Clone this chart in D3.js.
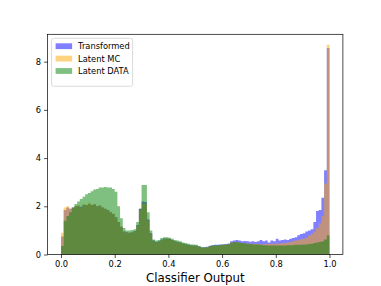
<!DOCTYPE html>
<html>
<head>
<meta charset="utf-8">
<script src="https://cdn.jsdelivr.net/npm/d3@7"></script>
<style>
  html, body { margin: 0; padding: 0; background: #fff; }
  svg { display: block; font-family: "DejaVu Sans", sans-serif; }
</style>
</head>
<body>
<div id="chart"></div>
<script>
// histogram settings: 100 bins over [0, 1]
const binCount = 100;
const binLo = 0, binHi = 1;

const seriesNames = ["Transformed", "Latent MC", "Latent DATA"];
const seriesColors = ["blue", "orange", "green"];

// bin heights (density)
const transformed = [
  0.75, 1.85, 1.95, 1.9, 1.95, 2.0, 2.0, 1.98, 2.05, 2.05,
  2.1, 2.05, 2.08, 2.0, 2.02, 1.95, 1.9, 1.85, 1.75, 1.68,
  1.55, 1.35, 1.15, 0.95, 0.92, 0.9, 0.92, 0.98, 1.22, 1.9,
  2.2, 2.18, 1.45, 0.88, 0.58, 0.52, 0.55, 0.62, 0.66, 0.66,
  0.65, 0.6, 0.55, 0.52, 0.5, 0.46, 0.43, 0.4, 0.38, 0.37,
  0.36, 0.33, 0.3, 0.3, 0.32, 0.36, 0.38, 0.4, 0.4, 0.42,
  0.43, 0.44, 0.46, 0.55, 0.58, 0.6, 0.58, 0.55, 0.56, 0.55,
  0.53, 0.55, 0.52, 0.55, 0.6, 0.55, 0.58, 0.5, 0.58, 0.55,
  0.65, 0.58, 0.6, 0.62, 0.6, 0.65, 0.68, 0.72, 0.8, 0.85,
  0.88, 0.95, 1.0, 1.05, 1.35, 1.8, 1.85, 2.35, 3.5, 8.57
];
const latentMC = [
  0.9, 1.95, 2.0, 1.9, 1.95, 2.0, 2.05, 1.95, 2.1, 2.05,
  2.15, 2.05, 2.1, 2.0, 2.05, 1.95, 1.9, 1.85, 1.75, 1.7,
  1.55, 1.35, 1.15, 0.95, 0.9, 0.9, 0.92, 0.95, 1.2, 1.85,
  2.1, 2.1, 1.4, 0.85, 0.55, 0.5, 0.52, 0.6, 0.65, 0.65,
  0.63, 0.6, 0.55, 0.5, 0.48, 0.45, 0.42, 0.38, 0.37, 0.36,
  0.35, 0.32, 0.28, 0.28, 0.3, 0.33, 0.35, 0.36, 0.36, 0.38,
  0.4, 0.4, 0.42, 0.5, 0.52, 0.52, 0.5, 0.48, 0.47, 0.46,
  0.45, 0.45, 0.44, 0.44, 0.43, 0.43, 0.44, 0.44, 0.45, 0.45,
  0.46, 0.46, 0.47, 0.48, 0.5, 0.52, 0.55, 0.58, 0.6, 0.63,
  0.65, 0.7, 0.78, 0.85, 0.95, 1.1, 1.3, 1.6, 2.95, 8.7
];
const latentData = [
  0.35, 1.4, 1.6, 1.75, 1.95, 2.1, 2.2, 2.3, 2.4, 2.5,
  2.55, 2.62, 2.7, 2.72, 2.78, 2.78, 2.8, 2.78, 2.78, 2.72,
  2.6, 2.0, 1.5, 1.1, 1.0, 1.0, 1.02, 1.05, 1.35, 1.9,
  2.88, 2.88, 1.75, 1.0, 0.62, 0.58, 0.6, 0.68, 0.72, 0.72,
  0.7, 0.65, 0.6, 0.58, 0.55, 0.5, 0.48, 0.45, 0.42, 0.42,
  0.4, 0.35, 0.3, 0.3, 0.3, 0.35, 0.38, 0.38, 0.38, 0.4,
  0.4, 0.42, 0.43, 0.5, 0.52, 0.52, 0.5, 0.48, 0.47, 0.45,
  0.44, 0.43, 0.42, 0.42, 0.4, 0.38, 0.38, 0.37, 0.37, 0.37,
  0.37, 0.37, 0.37, 0.37, 0.38, 0.38, 0.38, 0.4, 0.4, 0.4,
  0.42, 0.42, 0.44, 0.45, 0.48, 0.5, 0.52, 0.55, 0.62, 0.8
];
const seriesValues = [transformed, latentMC, latentData];

const xTicks = [0, 0.2, 0.4, 0.6, 0.8, 1.0];
const yTicks = [0, 2, 4, 6, 8];
const xLabel = "Classifier Output";

const W = 381, H = 286;
const margin = { left: 47.6, right: 38.1, top: 34.3, bottom: 31.5 };

const svg = d3.select("#chart").append("svg")
  .attr("width", W)
  .attr("height", H);

const binWidth = (binHi - binLo) / binCount;
const pad = (binHi - binLo) * 0.05;
const yMax = d3.max(seriesValues, s => d3.max(s)) * 1.05;

const x = d3.scaleLinear()
  .domain([binLo - pad, binHi + pad])
  .range([margin.left, W - margin.right]);
const y = d3.scaleLinear()
  .domain([0, yMax])
  .range([H - margin.bottom, margin.top]);

// bars: one path per series so neighbouring bars leave no hairline seams
seriesValues.forEach((vals, k) => {
  const p = d3.path();
  vals.forEach((v, i) => {
    const x0 = x(binLo + i * binWidth), x1 = x(binLo + (i + 1) * binWidth);
    p.rect(x0, y(v), x1 - x0, y(0) - y(v));
  });
  svg.append("path")
    .attr("class", "hist")
    .attr("d", p.toString())
    .attr("fill", seriesColors[k])
    .attr("fill-opacity", 0.5);
});

// axes
const axisX = d3.axisBottom(x)
  .tickValues(xTicks)
  .tickFormat(d3.format(".1f"))
  .tickSize(3.5)
  .tickPadding(3);
const axisY = d3.axisLeft(y)
  .tickValues(yTicks)
  .tickFormat(d3.format("d"))
  .tickSize(3.5)
  .tickPadding(3);

const gx = svg.append("g")
  .attr("transform", `translate(0, ${H - margin.bottom})`)
  .call(axisX);
const gy = svg.append("g")
  .attr("transform", `translate(${margin.left}, 0)`)
  .call(axisY);
[gx, gy].forEach(g => {
  g.select(".domain").remove();
  g.selectAll("line").attr("stroke", "#000").attr("stroke-width", 0.7);
  g.selectAll("text")
    .attr("fill", "#000")
    .style("font-size", "8.3px")
    .style("font-family", "DejaVu Sans");
});

// frame
svg.append("rect")
  .attr("x", margin.left)
  .attr("y", margin.top)
  .attr("width", W - margin.left - margin.right)
  .attr("height", H - margin.top - margin.bottom)
  .attr("fill", "none")
  .attr("stroke", "#000")
  .attr("stroke-width", 0.7);

svg.append("text")
  .attr("x", (margin.left + W - margin.right) / 2)
  .attr("y", H - 4.5)
  .attr("text-anchor", "middle")
  .style("font-size", "11.8px")
  .text(xLabel);

// legend
const legend = svg.append("g")
  .attr("transform", `translate(${margin.left + 4}, ${margin.top + 4})`);
legend.append("rect")
  .attr("width", 81)
  .attr("height", 48)
  .attr("rx", 2)
  .attr("fill", "#fff")
  .attr("fill-opacity", 0.8)
  .attr("stroke", "#ccc")
  .attr("stroke-width", 0.7);
seriesNames.forEach((name, k) => {
  const row = legend.append("g")
    .attr("transform", `translate(4, ${5 + k * 12.4})`);
  row.append("rect")
    .attr("width", 16.5)
    .attr("height", 5.8)
    .attr("fill", seriesColors[k])
    .attr("fill-opacity", 0.5);
  row.append("text")
    .attr("x", 22.5)
    .attr("y", 6)
    .style("font-size", "8.3px")
    .text(name);
});
</script>
</body>
</html>
